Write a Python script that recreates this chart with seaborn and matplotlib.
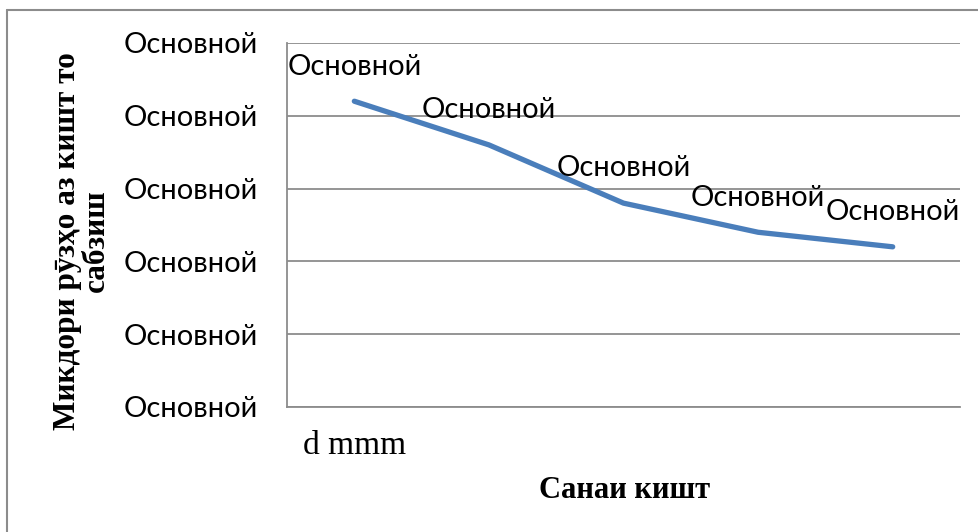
import matplotlib.pyplot as plt
import seaborn as sns
from matplotlib.lines import Line2D

# data
x_pos = [0, 1, 2, 3, 4]
x_labels = ['d mmm', '', '', '', '']
values = [21, 18, 14, 12, 11]
point_labels = ['Основной'] * 5
y_ticks = [0, 5, 10, 15, 20, 25]
y_tick_labels = ['Основной'] * 6

sns.set_style('white')
plt.rcParams['font.family'] = ['Lato', 'DejaVu Sans']
plt.rcParams['text.color'] = 'black'
plt.rcParams['xtick.color'] = 'black'
plt.rcParams['ytick.color'] = 'black'
plt.rcParams['axes.labelcolor'] = 'black'

fig = plt.figure(figsize=(9.79, 5.32), dpi=100)
ax = fig.add_axes([0.2932, 0.235, 0.6874, 0.6842])

sns.lineplot(x=x_pos, y=values, ax=ax, color='#4a7ebb', linewidth=3.8,
             solid_capstyle='round')

for xi, yi, lab in zip(x_pos, values, point_labels):
    ax.annotate(lab, (xi, yi), xytext=(0, 25), textcoords='offset points',
                ha='center', va='center', fontsize=21)

ax.set_xlim(-0.5, 4.5)
ax.set_ylim(0, 25)
ax.set_yticks(y_ticks)
ax.set_yticklabels(y_tick_labels, fontsize=21)
ax.set_xticks(x_pos)
ax.set_xticklabels(x_labels, fontsize=24, family='Liberation Serif')
ax.tick_params(axis='x', length=0, pad=17)
ax.tick_params(axis='y', length=7, width=1.2, color='#8c8c8c',
               labelcolor='black', pad=14)
ax.grid(axis='y', color='#8c8c8c', linewidth=1.3)
ax.set_axisbelow(True)

for s in ['top', 'right']:
    ax.spines[s].set_visible(False)
for s in ['left', 'bottom']:
    ax.spines[s].set_color('#8c8c8c')
    ax.spines[s].set_linewidth(1.3)

ax.set_xlabel('Санаи кишт', fontsize=22, fontweight='bold',
              family='Liberation Serif')
ax.xaxis.set_label_coords(0.502, -0.19)
ax.set_ylabel('Микдори рӯзҳо аз кишт то\nсабзиш', fontsize=22.5,
              fontweight='bold', family='Liberation Serif', linespacing=1.0)
ax.yaxis.set_label_coords(-0.262, 0.456)

# outer chart border (left and top edges visible)
fig.add_artist(Line2D([7 / 979, 7 / 979], [0, 1 - 10 / 532],
                      transform=fig.transFigure, color='#8c8c8c', linewidth=1.5))
fig.add_artist(Line2D([7 / 979, 1], [1 - 10 / 532, 1 - 10 / 532],
                      transform=fig.transFigure, color='#8c8c8c', linewidth=1.5))

plt.savefig('out.png', dpi=100)
